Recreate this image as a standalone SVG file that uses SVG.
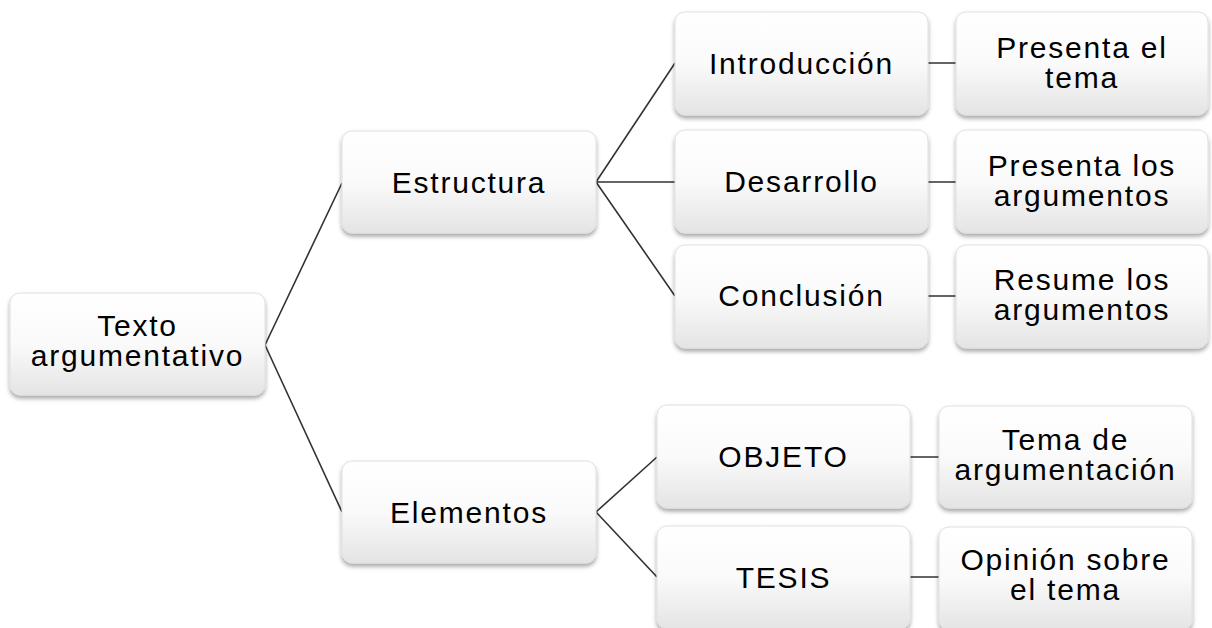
<svg xmlns="http://www.w3.org/2000/svg" width="1212" height="628" viewBox="0 0 1212 628">
<defs>
<linearGradient id="g" x1="0" y1="0" x2="0" y2="1">
<stop offset="0" stop-color="#ffffff"/>
<stop offset="0.5" stop-color="#fafafa"/>
<stop offset="1" stop-color="#e4e4e4"/>
</linearGradient>
<filter id="sh" x="-10%" y="-10%" width="120%" height="130%">
<feDropShadow dx="0" dy="3" stdDeviation="2" flood-color="#000" flood-opacity="0.35"/>
</filter>
</defs>
<style>
.box{fill:url(#g);stroke:#e0e0e0;stroke-width:1;filter:url(#sh)}
.t{font-family:"Liberation Sans",Arial,sans-serif;font-size:30px;letter-spacing:1.8px;fill:#000;text-anchor:middle}
.c{stroke:#333;stroke-width:1.6;fill:none}
</style>
<rect width="1212" height="628" fill="#fff"/>
<g id="connectors">
<path class="c" d="M265,345 L342,183 M265,345 L342,512"/>
<path class="c" d="M596,182 L675,63 M596,182 L675,182 M596,182 L675,296"/>
<path class="c" d="M596,512 L657,457 M596,512 L657,577"/>
<path class="c" d="M928,63 L956,63 M928,182 L956,182 M928,296 L956,296 M910,457 L939,457 M910,577 L939,577"/>
</g>
<g id="root"><rect class="box" x="10" y="293" width="255" height="102" rx="10"/>
<text class="t" x="137.5" y="336">Texto</text><text class="t" x="137.5" y="366">argumentativo</text></g>
<g id="estructura"><rect class="box" x="342" y="131" width="254" height="102" rx="10"/>
<text class="t" x="469" y="193">Estructura</text></g>
<g id="elementos"><rect class="box" x="342" y="461" width="254" height="102" rx="10"/>
<text class="t" x="469" y="523">Elementos</text></g>
<g id="introduccion"><rect class="box" x="675" y="12" width="253" height="103" rx="10"/>
<text class="t" x="801.5" y="74">Introducción</text></g>
<g id="desarrollo"><rect class="box" x="675" y="130" width="253" height="103" rx="10"/>
<text class="t" x="801.5" y="192">Desarrollo</text></g>
<g id="conclusion"><rect class="box" x="675" y="245" width="253" height="103" rx="10"/>
<text class="t" x="801.5" y="306">Conclusión</text></g>
<g id="presenta-tema"><rect class="box" x="956" y="12" width="252" height="103" rx="10"/>
<text class="t" x="1082" y="58">Presenta el</text><text class="t" x="1082" y="88">tema</text></g>
<g id="presenta-args"><rect class="box" x="956" y="130" width="252" height="103" rx="10"/>
<text class="t" x="1082" y="176">Presenta los</text><text class="t" x="1082" y="206">argumentos</text></g>
<g id="resume"><rect class="box" x="956" y="245" width="252" height="103" rx="10"/>
<text class="t" x="1082" y="290">Resume los</text><text class="t" x="1082" y="320">argumentos</text></g>
<g id="objeto"><rect class="box" x="657" y="405" width="253" height="103" rx="10"/>
<text class="t" x="783.5" y="467">OBJETO</text></g>
<g id="tesis"><rect class="box" x="657" y="526" width="253" height="103" rx="10"/>
<text class="t" x="783.5" y="588">TESIS</text></g>
<g id="tema-arg"><rect class="box" x="939" y="406" width="253" height="102" rx="10"/>
<text class="t" x="1065.5" y="450">Tema de</text><text class="t" x="1065.5" y="480">argumentación</text></g>
<g id="opinion"><rect class="box" x="939" y="527" width="253" height="103" rx="10"/>
<text class="t" x="1065.5" y="570">Opinión sobre</text><text class="t" x="1065.5" y="600">el tema</text></g>
</svg>
